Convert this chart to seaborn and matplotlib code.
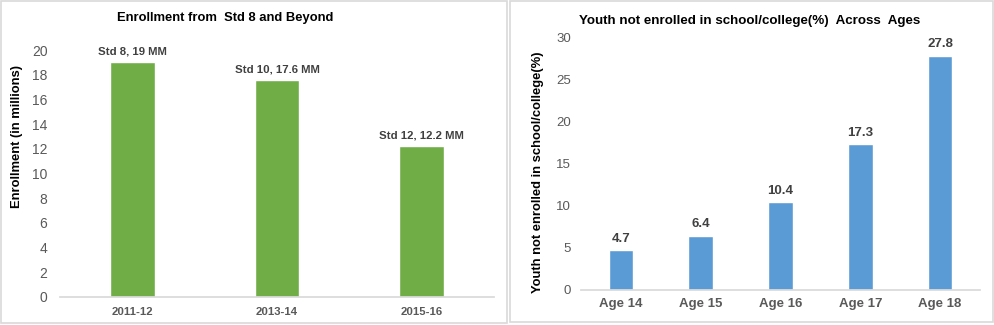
import matplotlib
matplotlib.use("Agg")
import matplotlib.pyplot as plt
from matplotlib.patches import Rectangle
import pandas as pd
import seaborn as sns

# Enrollment from Std 8 onward
years = ["2011-12", "2013-14", "2015-16"]
standards = [8, 10, 12]
enrollment = [19, 17.6, 12.2]

# Share of youth not enrolled, by age
ages = ["Age 14", "Age 15", "Age 16", "Age 17", "Age 18"]
not_enrolled = [4.7, 6.4, 10.4, 17.3, 27.8]

sns.set_theme(style="white")
plt.rcParams["font.family"] = ["Liberation Sans", "DejaVu Sans"]

GREEN = "#70AD47"
BLUE = "#5B9BD5"
TICK = "#595959"
LABEL = "#404040"
FRAME = "#D9D9D9"

W, H = 994, 325
fig = plt.figure(figsize=(W / 100, H / 100), dpi=100)


def fx(px):
    return px / W


def fy(py):
    return 1 - py / H


# panel frames
fig.patches.append(Rectangle((fx(0.5), fy(322.5)), fx(507), 321.5 / H, transform=fig.transFigure,
                             fill=False, edgecolor=FRAME, linewidth=1.2))
fig.patches.append(Rectangle((fx(509.5), fy(322)), fx(483), 321 / H, transform=fig.transFigure,
                             fill=False, edgecolor=FRAME, linewidth=1.2))

# ---- left chart ----
ax1 = fig.add_axes([fx(60), fy(297), fx(434), (297 - 50) / H])
df1 = pd.DataFrame({"year": years, "enrollment": enrollment})
sns.barplot(data=df1, x="year", y="enrollment", color=GREEN, saturation=1, width=0.31, ax=ax1)
ax1.set_ylim(0, 20)
ax1.set_yticks(range(0, 21, 2))
ax1.set_xlabel("")
ax1.set_ylabel("")
ax1.bar_label(ax1.containers[0],
              labels=[f"Std {s}, {v:g} MM" for s, v in zip(standards, enrollment)],
              padding=4, fontsize=8.2, fontweight="bold", color=LABEL)
ax1.tick_params(axis="y", labelsize=10, colors=TICK, length=0, pad=9)
ax1.tick_params(axis="x", labelsize=8.2, colors=TICK, length=0, pad=7)
for t in ax1.get_xticklabels():
    t.set_fontweight("bold")
for side in ["top", "right", "left"]:
    ax1.spines[side].set_visible(False)
ax1.spines["bottom"].set_color(FRAME)
fig.text(fx(225), fy(17.5), "Enrollment from  Std 8 and Beyond", ha="center", va="center",
         fontsize=9.4, fontweight="bold", color="black")
fig.text(fx(17.5), fy(136), "Enrollment (in millions)", rotation=90, ha="center", va="center",
         fontsize=9.4, fontweight="bold", color="black")

# ---- right chart ----
ax2 = fig.add_axes([fx(581), fy(290), fx(399), (290 - 37) / H])
df2 = pd.DataFrame({"age": ages, "pct": not_enrolled})
sns.barplot(data=df2, x="age", y="pct", color=BLUE, saturation=1, width=0.31, ax=ax2)
ax2.set_ylim(0, 30)
ax2.set_yticks(range(0, 31, 5))
ax2.set_xlabel("")
ax2.set_ylabel("")
ax2.bar_label(ax2.containers[0], labels=[f"{v:g}" for v in not_enrolled],
              padding=4, fontsize=9.5, fontweight="bold", color=LABEL)
ax2.tick_params(axis="y", labelsize=9.5, colors=TICK, length=0, pad=7)
ax2.tick_params(axis="x", labelsize=9.5, colors=TICK, length=0, pad=6)
for t in ax2.get_xticklabels():
    t.set_fontweight("bold")
for side in ["top", "right", "left"]:
    ax2.spines[side].set_visible(False)
ax2.spines["bottom"].set_color(FRAME)
fig.text(fx(750), fy(21), "Youth not enrolled in school/college(%)  Across  Ages", ha="center",
         va="center", fontsize=9.6, fontweight="bold", color="black")
fig.text(fx(537.5), fy(172.5), "Youth not enrolled in school/college(%)", rotation=90,
         ha="center", va="center", fontsize=9.4, fontweight="bold", color="black")

fig.savefig("out.png", dpi=100, facecolor="white")
